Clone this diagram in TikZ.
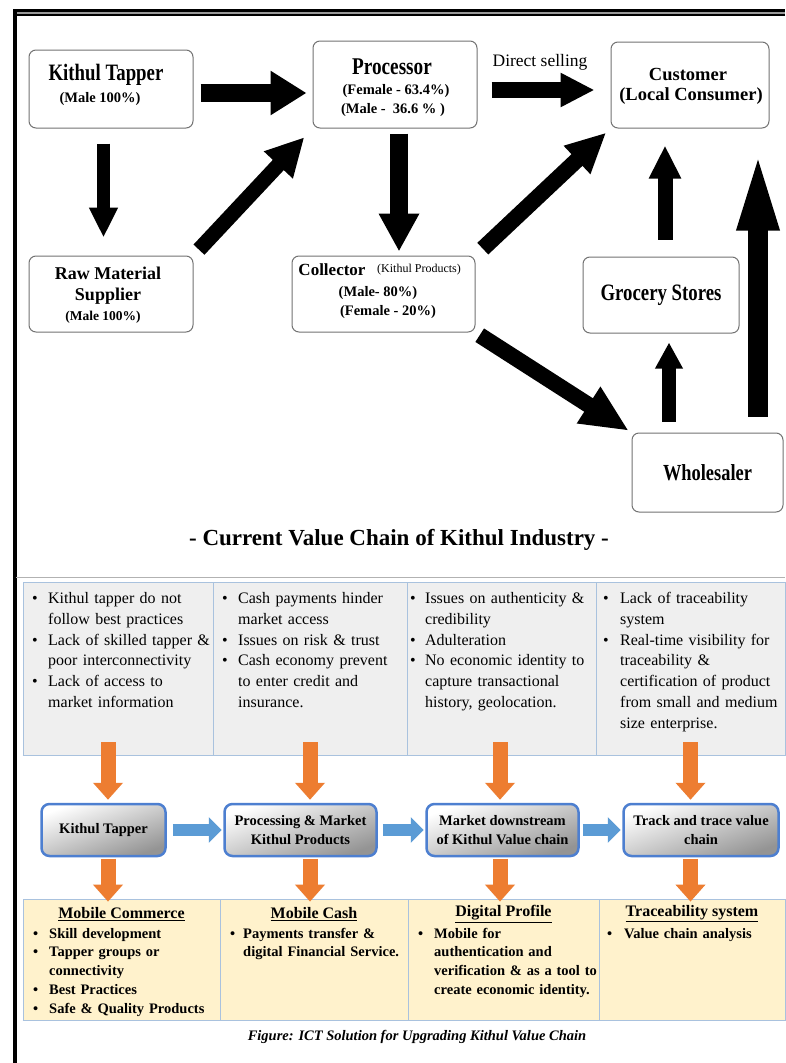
\documentclass[tikz,border=0pt]{standalone}
\usepackage{fontspec}
\setmainfont{Liberation Serif}
\newfontfamily\narrowserif[FakeStretch=0.8]{Liberation Serif}
\usepackage{xcolor}
\usetikzlibrary{arrows.meta,positioning}

\definecolor{issuegray}{HTML}{EFEFEF}
\definecolor{solyellow}{HTML}{FFF2CC}
\definecolor{cellline}{HTML}{A9C2DE}
\definecolor{stageline}{HTML}{4D7FD0}
\definecolor{arroworange}{HTML}{ED7D31}
\definecolor{arrowblue}{HTML}{5B9BD5}

\newcommand{\fsz}[2]{\fontsize{#1pt}{#2pt}\selectfont}
\newcommand{\bul}[2][16pt]{\par\noindent\hangindent=#1\hangafter=1\makebox[#1][l]{\textbullet}#2\par}

\begin{document}
\begin{tikzpicture}[x=1pt, y=-1pt,
  actor/.style={draw=black!55, line width=1pt, rounded corners=7pt, fill=white},
  bigname/.style={font=\narrowserif\bfseries\fsz{23.5}{27}},
  midname/.style={font=\bfseries\fsz{18}{21}},
  share/.style={font=\bfseries\fsz{14.5}{17}},
  blockarrow/.style n args={3}{black, line width=#1, -{Triangle[width=#2, length=#3]}},
  issuecell/.style={draw=cellline, line width=0.8pt, fill=issuegray},
  solcell/.style={draw=cellline, line width=0.8pt, fill=solyellow},
  issuetext/.style={anchor=north west, inner sep=0pt, align=left, font=\fsz{16}{20.8}},
  soltext/.style={anchor=north west, inner sep=0pt, align=left, font=\bfseries\fsz{14.5}{18.8}},
  solhead/.style={font=\bfseries\fsz{16}{19}},
  stage/.style={draw=stageline, line width=2.5pt, rounded corners=8pt, top color=white,
    bottom color=black!42, shading angle=20, align=center, font=\bfseries\fsz{14.5}{19}},
  orangearrow/.style={arroworange, line width=15pt, -{Triangle[width=29pt, length=17pt]}},
  bluearrow/.style={arrowblue, line width=12pt, -{Triangle[width=25pt, length=13pt]}}]

\fill[white] (0,0) rectangle (785,1063);
\useasboundingbox (0,0) rectangle (785,1063);

% Frame
\draw[line width=2.3pt] (13,10.6) -- (785,10.6);
\draw[black!40, line width=1.5pt] (13,12.8) -- (785,12.8);
\draw[line width=2.3pt] (13,14.9) -- (785,14.9);
\draw[line width=3.4pt] (15,9.5) -- (15,1063);

% Kithul Tapper
\node[actor, minimum width=164, minimum height=78] (tapper) at (111,89) {};
\node[bigname] (tapperT) at (106,75) {Kithul Tapper};
\node[share] (tapperS) at (100,99) {(Male 100\%)};

% Processor
\node[actor, minimum width=164, minimum height=87] (proc) at (395,84.5) {};
\node[bigname, font=\narrowserif\bfseries\fsz{24}{27}] (procT) at (392,67) {Processor};
\node[share] (procS1) at (396,91) {(Female - 63.4\%)};
\node[share] (procS2) at (393,110) {(Male -\ \ 36.6 \% )};

% Customer
\node[actor, minimum width=158, minimum height=86] (cust) at (690,85) {};
\node[font=\bfseries\fsz{18.5}{21}] (custT) at (688,74) {Customer};
\node[font=\bfseries\fsz{18.5}{21}] (custS) at (691,96) {(Local Consumer)};

% Raw Material Supplier
\node[actor, minimum width=164, minimum height=76] (raw) at (111,294) {};
\node[midname] (rawT1) at (108,273) {Raw Material};
\node[midname] (rawT2) at (108,296) {Supplier};
\node[share, font=\bfseries\fsz{13.5}{16}] (rawS) at (103,317) {(Male 100\%)};

% Collector
\node[actor, minimum width=183, minimum height=76] (coll) at (383.5,294) {};
\node[midname, font=\bfseries\fsz{17}{20}] (collT) at (332,270) {Collector};
\node[font=\fsz{12}{14}] (collP) at (419,270) {(Kithul Products)};
\node[share] (collS1) at (378,293) {(Male- 80\%)};
\node[share] (collS2) at (388,312) {(Female - 20\%)};

% Grocery Stores and Wholesaler
\node[actor, bigname, minimum width=156, minimum height=76] (groc) at (661,295) {Grocery Stores};
\node[actor, bigname, font=\narrowserif\bfseries\fsz{23}{27}, minimum width=151, minimum height=79] (whole) at (707.5,472.5) {Wholesaler};

% Flows
\draw[blockarrow={18pt}{42pt}{36pt}, shorten <=7pt, shorten >=6pt] ([yshift=-4pt]tapper.east) -- ([yshift=-4pt]tapper.east -| proc.west);
\draw[blockarrow={13pt}{27pt}{30pt}, shorten <=15pt, shorten >=18pt] ([xshift=-7.5pt]tapper.south) -- ([xshift=-7.5pt]tapper.south |- raw.north);
\draw[blockarrow={15pt}{37pt}{38pt}, shorten <=8pt, shorten >=12pt] (raw.north east) -- (proc.south west);
\draw[blockarrow={18pt}{38pt}{38pt}, shorten <=5pt, shorten >=4pt] ([xshift=4pt]proc.south) -- ([xshift=4pt]proc.south |- coll.north);
\draw[blockarrow={16pt}{32pt}{34pt}, shorten <=14pt, shorten >=16pt] ([yshift=-5.5pt]proc.east) -- ([yshift=-5.5pt]proc.east -| cust.west);
\draw[blockarrow={16pt}{36pt}{40pt}, shorten <=10pt, shorten >=6pt] (coll.north east) -- (cust.south west);
\draw[blockarrow={15pt}{30pt}{33pt}, shorten <=17pt, shorten >=17pt] ([xshift=4pt]groc.north) -- ([xshift=4pt]groc.north |- cust.south);
\draw[blockarrow={20pt}{36pt}{86pt}, shorten <=16pt, shorten >=16pt] ([xshift=50.5pt]whole.north) -- ([xshift=50.5pt]whole.north |- cust.south);
\draw[blockarrow={16pt}{40pt}{48pt}, shorten <=5pt, shorten >=3pt] (coll.south east) -- (whole.north west);
\draw[blockarrow={14pt}{26pt}{26pt}, shorten <=11pt, shorten >=9pt] ([xshift=8pt]groc.south |- whole.north) -- ([xshift=8pt]groc.south);

% Labels
\node[font=\fsz{17.5}{20}] (dsel) at (540,62) {Direct selling};
\node[font=\bfseries\fsz{23}{27}] (title) at (399,540) {- Current Value Chain of Kithul Industry -};

% Separator
\draw[black!30, line width=1pt] (16,577) -- (785,577);

% Issues
\node[issuecell, minimum width=190, minimum height=173] (iss1) at (118,668.5) {};
\node[issuecell, minimum width=194, minimum height=173] (iss2) at (310,668.5) {};
\node[issuecell, minimum width=189, minimum height=173] (iss3) at (501.5,668.5) {};
\node[issuecell, minimum width=189, minimum height=173] (iss4) at (690.5,668.5) {};
\draw[cellline, line width=1.6pt] (iss1.south west) -- (iss4.south east);

\node[issuetext, text width=178] (iss1t) at (32,582.5) {\bul{Kithul tapper do not\newline follow best practices}\bul{Lack of skilled tapper \&\newline poor interconnectivity}\bul{Lack of access to\newline market information}};
\node[issuetext, text width=180] (iss2t) at (222,582.5) {\bul{Cash payments hinder\newline market access}\bul{Issues on risk \& trust}\bul{Cash economy prevent\newline to enter credit and\newline insurance.}};
\node[issuetext, text width=182] (iss3t) at (410,582.5) {\bul[15pt]{Issues on authenticity \&\newline credibility}\bul[15pt]{Adulteration}\bul[15pt]{No economic identity to\newline capture transactional\newline history, geolocation.}};
\node[issuetext, text width=180] (iss4t) at (603,582.5) {\bul[17pt]{Lack of traceability\newline system}\bul[17pt]{Real-time visibility for\newline traceability \&\newline certification of product\newline from small and medium\newline size enterprise.}};

% Stages
\node[stage, minimum width=124, minimum height=52] (st1) at (103.5,830) {Kithul Tapper};
\node[stage, minimum width=152, minimum height=52] (st2) at (300.5,830) {Processing \& Market\\Kithul Products};
\node[stage, minimum width=152, minimum height=52] (st3) at (502.5,830) {Market downstream\\of Kithul Value chain};
\node[stage, minimum width=155, minimum height=52] (st4) at (701,830) {Track and trace value\\chain};

\draw[bluearrow, shorten <=6pt, shorten >=1.5pt] (st1.east) -- (st2.west);
\draw[bluearrow, shorten <=5pt, shorten >=1.5pt] (st2.east) -- (st3.west);
\draw[bluearrow, shorten <=3pt, shorten >=1.5pt] (st3.east) -- (st4.west);

% Solutions
\node[solcell, minimum width=197, minimum height=121] (sol1) at (121.5,959.5) {};
\node[solcell, minimum width=188, minimum height=121] (sol2) at (314,959.5) {};
\node[solcell, minimum width=191, minimum height=121] (sol3) at (503.5,959.5) {};
\node[solcell, minimum width=186, minimum height=121] (sol4) at (692,959.5) {};
\draw[cellline, line width=1.6pt] (sol1.south west) -- (sol4.south east);

\node[solhead] (sol1h) at (121.5,914) {\underline{Mobile Commerce}};
\node[solhead] (sol2h) at (314,914) {\underline{Mobile Cash}};
\node[solhead] (sol3h) at (503.5,914) {\underline{Digital Profile}};
\node[solhead] (sol4h) at (692,914) {\underline{Traceability system}};

\node[soltext, text width=185] (sol1t) at (33,919) {\bul{Skill development}\bul{Tapper groups or\newline connectivity}\bul{Best Practices}\bul{Safe \& Quality Products}};
\node[soltext, text width=180] (sol2t) at (230,919) {\bul[13pt]{Payments transfer \&\newline digital Financial Service.}};
\node[soltext, text width=185] (sol3t) at (418,919) {\bul{Mobile for\newline authentication and\newline verification \& as a tool to\newline create economic identity.}};
\node[soltext, text width=175] (sol4t) at (607,919) {\bul[17pt]{Value chain analysis}};

% Orange links
\draw[orangearrow, shorten <=-13pt, shorten >=3pt] ([xshift=-10pt]iss1.south) -- ([xshift=-10pt]iss1.south |- st1.north);
\draw[orangearrow, shorten <=-13pt, shorten >=3pt] (iss2.south) -- (iss2.south |- st2.north);
\draw[orangearrow, shorten <=-13pt, shorten >=3pt] ([xshift=-1.5pt]iss3.south) -- ([xshift=-1.5pt]iss3.south |- st3.north);
\draw[orangearrow, shorten <=-13pt, shorten >=3pt] (iss4.south) -- (iss4.south |- st4.north);
\draw[orangearrow, shorten <=1.5pt, shorten >=-3pt] ([xshift=-10pt]iss1.south |- st1.south) -- ([xshift=-10pt]iss1.south |- sol1.north);
\draw[orangearrow, shorten <=1.5pt, shorten >=-3pt] (iss2.south |- st2.south) -- (iss2.south |- sol2.north);
\draw[orangearrow, shorten <=1.5pt, shorten >=-3pt] ([xshift=-1.5pt]iss3.south |- st3.south) -- ([xshift=-1.5pt]iss3.south |- sol3.north);
\draw[orangearrow, shorten <=1.5pt, shorten >=-3pt] (iss4.south |- st4.south) -- (iss4.south |- sol4.north);

% Caption
\node[font=\bfseries\itshape\fsz{14.5}{17}] (caption) at (417,1037) {Figure: ICT Solution for Upgrading Kithul Value Chain};
\end{tikzpicture}
\end{document}
